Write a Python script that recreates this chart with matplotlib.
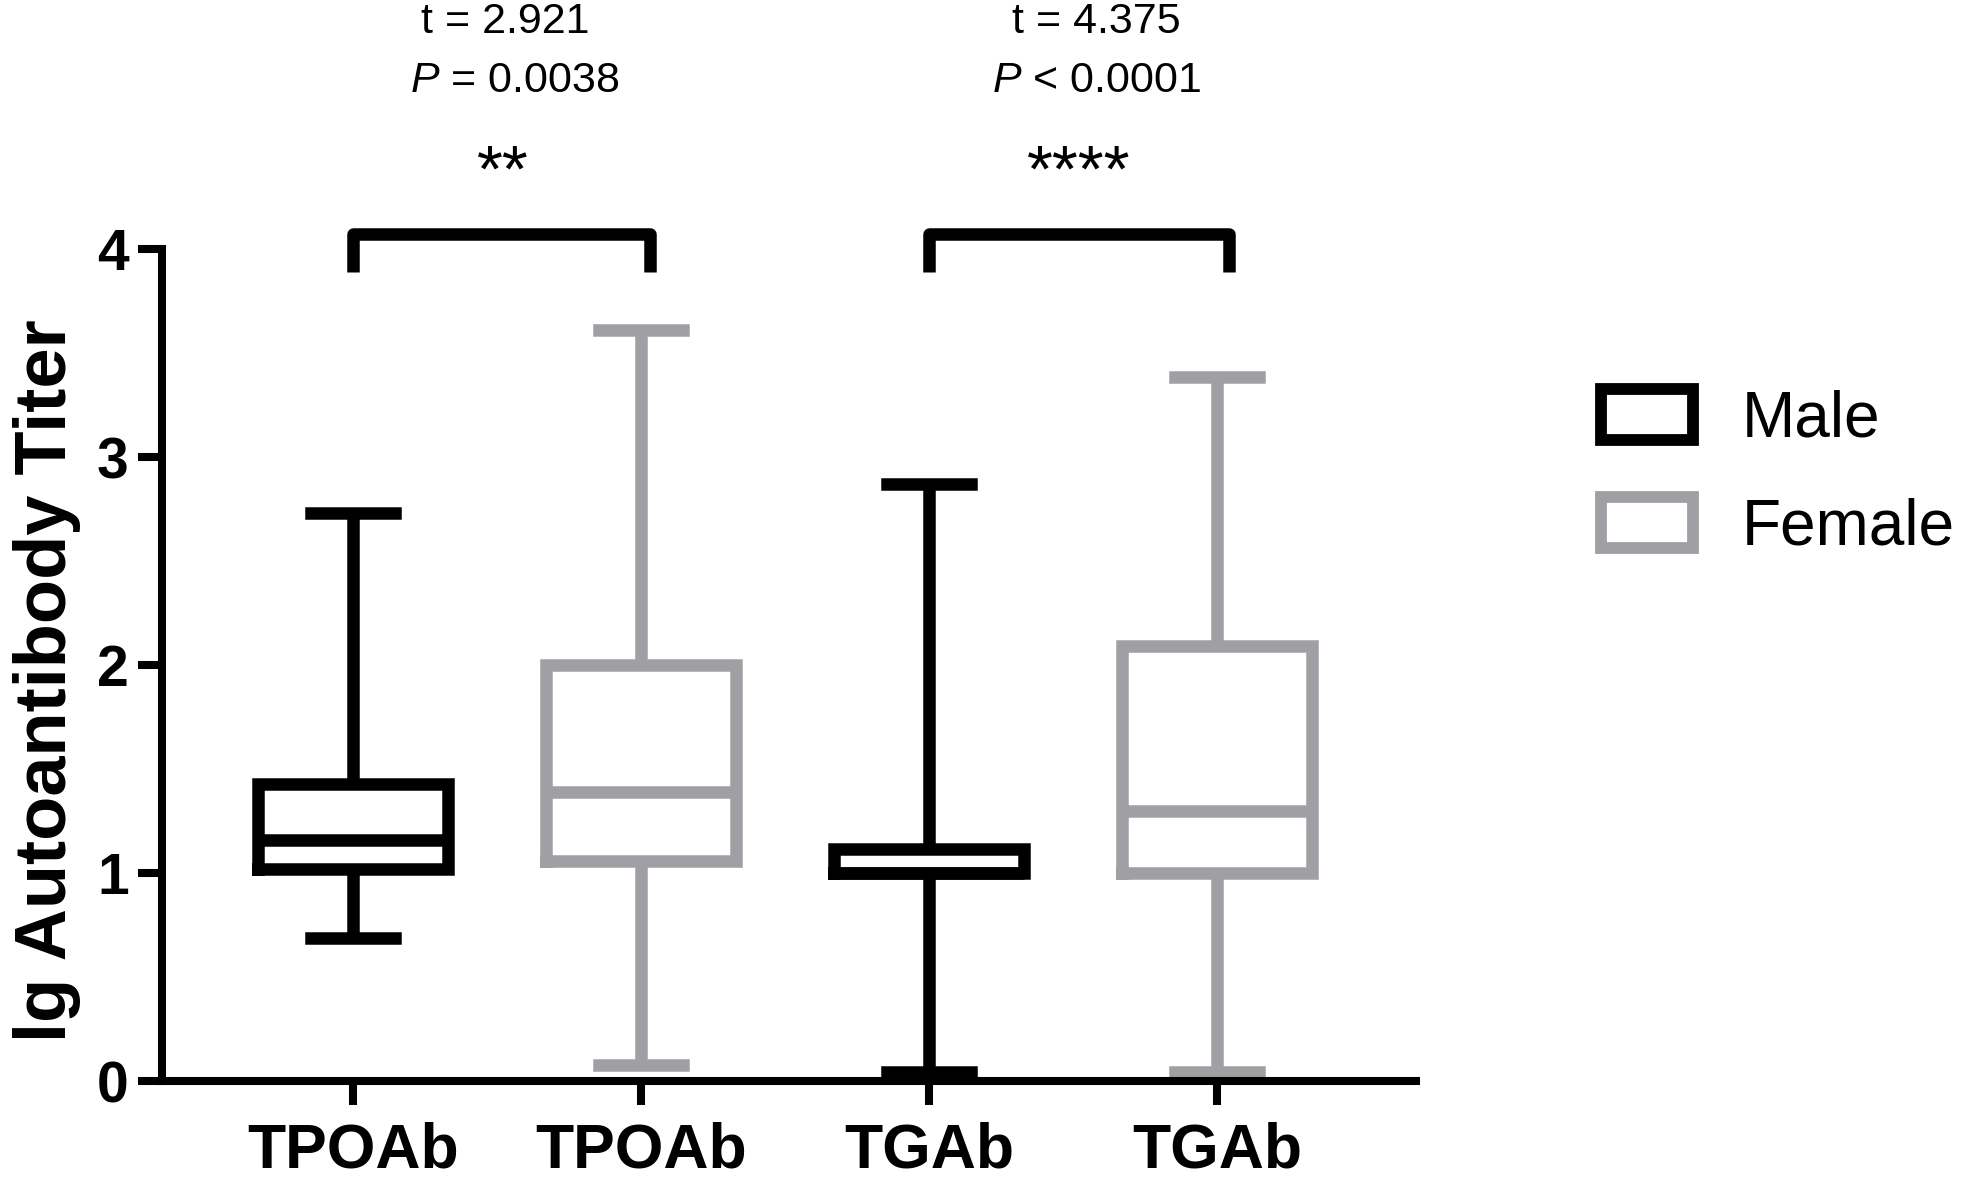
import matplotlib
matplotlib.use("Agg")
from matplotlib import pyplot as plt
from matplotlib.patches import Patch

plt.rcParams['font.family'] = ['Liberation Sans', 'DejaVu Sans']
plt.rcParams['mathtext.fontset'] = 'custom'
plt.rcParams['mathtext.rm'] = 'Liberation Sans'
plt.rcParams['mathtext.it'] = 'Liberation Sans:italic'

# box statistics (lg titer)
groups = ['TPOAb', 'TPOAb', 'TGAb', 'TGAb']
sexes = ['Male', 'Female', 'Male', 'Female']
whislo = [0.69, 0.075, 0.043, 0.045]
q1 = [1.02, 1.06, 1.00, 1.00]
med = [1.16, 1.39, 1.00, 1.30]
q3 = [1.43, 2.00, 1.115, 2.09]
whishi = [2.73, 3.61, 2.87, 3.385]

# comparisons
pairs = [(1, 2), (3, 4)]
t_vals = ['t = 2.921', 't = 4.375']
p_vals = ['$\\mathit{P}$ = 0.0038', '$\\mathit{P}$ < 0.0001']
stars = ['**', '****']

colors = {'Male': '#000000', 'Female': '#A0A0A4'}

fig = plt.figure(figsize=(19.69, 11.79), dpi=100)
ax = fig.add_axes([0.0823, 0.0831, 0.637, 0.7057])

lw = 9
for i in range(len(groups)):
    c = colors[sexes[i]]
    st = [{'med': med[i], 'q1': q1[i], 'q3': q3[i],
           'whislo': whislo[i], 'whishi': whishi[i], 'fliers': []}]
    ax.bxp(st, positions=[i + 1], widths=0.66, capwidths=0.29,
           showfliers=False, patch_artist=False,
           boxprops=dict(color=c, linewidth=lw, solid_joinstyle='miter'),
           whiskerprops=dict(color=c, linewidth=lw, solid_capstyle='butt'),
           capprops=dict(color=c, linewidth=lw),
           medianprops=dict(color=c, linewidth=lw, solid_capstyle='butt'))

# brackets and labels
for k, (a, b) in enumerate(pairs):
    b_end = b + 0.03 + 0.01 * k
    ax.plot([a, a, b_end, b_end], [3.89, 4.07, 4.07, 3.89], color='black', lw=9,
            solid_joinstyle='round', solid_capstyle='butt', clip_on=False)
    mid = (a + b) / 2
    ax.text(mid + 0.02, 4.36, stars[k], ha='center', va='center', fontsize=48,
            clip_on=False)
    ax.text(mid + 0.06 + 0.02 * k, 4.81, p_vals[k], ha='center', va='center',
            fontsize=31, clip_on=False)
    ax.text(mid + 0.03 + 0.05 * k, 5.09, t_vals[k], ha='center', va='center',
            fontsize=31, clip_on=False)

ax.set_xlim(0.337, 4.691)
ax.set_ylim(0, 4)
ax.set_yticks([0, 1, 2, 3, 4])
ax.set_xticks([1, 2, 3, 4])
ax.set_xticklabels(groups, fontsize=45, fontweight='bold')
ax.tick_params(axis='y', labelsize=41, width=5.8, length=17, pad=7)
ax.tick_params(axis='x', width=5.8, length=17, pad=12)
for lab in ax.get_yticklabels():
    lab.set_fontweight('bold')
for s in ['top', 'right']:
    ax.spines[s].set_visible(False)
for s in ['left', 'bottom']:
    ax.spines[s].set_linewidth(5.8)

fig.text(47 / 1969, 0.4227, 'lg Autoantibody Titer', rotation=90,
         ha='center', va='center', fontsize=52, fontweight='bold')

handles = [Patch(facecolor='white', edgecolor=colors[s], linewidth=8.5, label=s)
           for s in ['Male', 'Female']]
fig.legend(handles=handles, loc='upper left', bbox_to_anchor=(0.813, 0.670),
           frameon=False, fontsize=46, handlelength=1.45, handleheight=0.85,
           handletextpad=0.75, labelspacing=0.74, borderpad=0, borderaxespad=0)

fig.savefig('out.png', dpi=100, facecolor='white')
